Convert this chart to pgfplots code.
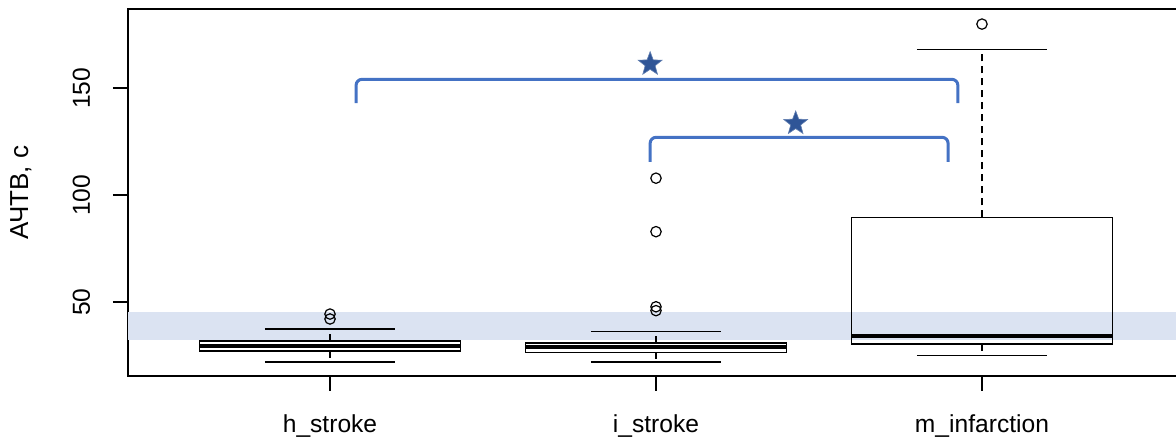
\documentclass[border=0pt]{standalone}
\usepackage{pgfplots}
\pgfplotsset{compat=1.18}
\usepgfplotslibrary{statistics}
\usepackage{fontspec}
\setmainfont{Liberation Sans}
\definecolor{band}{RGB}{219,227,242}
\definecolor{brk}{RGB}{68,114,196}
\definecolor{starc}{RGB}{47,85,151}
\pgfdeclareplotmark{fstar}{%
  \pgfpathmoveto{\pgfpointpolar{90}{\pgfplotmarksize}}%
  \pgfpathlineto{\pgfpointpolar{126}{0.42\pgfplotmarksize}}%
  \pgfpathlineto{\pgfpointpolar{162}{\pgfplotmarksize}}%
  \pgfpathlineto{\pgfpointpolar{198}{0.42\pgfplotmarksize}}%
  \pgfpathlineto{\pgfpointpolar{234}{\pgfplotmarksize}}%
  \pgfpathlineto{\pgfpointpolar{270}{0.42\pgfplotmarksize}}%
  \pgfpathlineto{\pgfpointpolar{306}{\pgfplotmarksize}}%
  \pgfpathlineto{\pgfpointpolar{342}{0.42\pgfplotmarksize}}%
  \pgfpathlineto{\pgfpointpolar{18}{\pgfplotmarksize}}%
  \pgfpathlineto{\pgfpointpolar{54}{0.42\pgfplotmarksize}}%
  \pgfpathclose
  \pgfusepathqfillstroke
}
\pgfplotsset{
  boxplot/draw/lower whisker/.code={%
    \draw[/pgfplots/boxplot/every whisker/.try, dash pattern=on 3.5pt off 2.5pt]
      (boxplot cs:\pgfplotsboxplotvalue{lower quartile}) --
      (boxplot cs:\pgfplotsboxplotvalue{lower whisker});
    \draw[/pgfplots/boxplot/every whisker/.try]
      (boxplot whisker cs:\pgfplotsboxplotvalue{lower whisker},0) --
      (boxplot whisker cs:\pgfplotsboxplotvalue{lower whisker},1);
  },
  boxplot/draw/upper whisker/.code={%
    \draw[/pgfplots/boxplot/every whisker/.try, dash pattern=on 3.5pt off 2.5pt]
      (boxplot cs:\pgfplotsboxplotvalue{upper quartile}) --
      (boxplot cs:\pgfplotsboxplotvalue{upper whisker});
    \draw[/pgfplots/boxplot/every whisker/.try]
      (boxplot whisker cs:\pgfplotsboxplotvalue{upper whisker},0) --
      (boxplot whisker cs:\pgfplotsboxplotvalue{upper whisker},1);
  },
  boxplot/every median/.style={line width=2pt},
}
\begin{document}
\begin{tikzpicture}
\begin{axis}[
  scale only axis, width=528.1pt, height=183.5pt,
  xmin=0.38, xmax=3.62, ymin=15.56, ymax=187.05,
  xtick={1,2,3}, xticklabels={h\_stroke, i\_stroke, m\_infarction},
  ytick={50,100,150},
  xtick pos=bottom, ytick pos=left,
  tick align=outside, major tick length=7.5pt,
  tick style={black, line width=0.8pt},
  axis line style={line width=0.8pt},
  font=\fontsize{12.3}{14}\selectfont,
  /pgf/number format/assume math mode=true,
  yticklabel style={rotate=90, anchor=base, inner sep=0pt},
  yticklabel shift=11.45pt,
  xticklabel style={anchor=base, inner sep=0pt},
  xticklabel shift=20.85pt,
  ylabel={АЧТВ, с},
  ylabel style={at={(axis description cs:-0.1013,0.5)}, anchor=center, font=\fontsize{13}{15}\selectfont},
  boxplot/draw direction=y,
]
\addplot[fill=band, draw=none] coordinates {(0.38,32.2) (3.62,32.2) (3.62,45.5) (0.38,45.5)} -- cycle;

\addplot[black, line width=0.8pt, mark=o, mark size=2.6pt, mark options={line width=0.6pt, solid},
  boxplot prepared={draw position=1, median=29.6, upper quartile=31.9, lower quartile=27.2,
  upper whisker=37.4, lower whisker=22.2, box extend=0.8, whisker extend=0.4}]
  coordinates {(0,44.5) (0,42.2)};
\addplot[black, line width=0.8pt, mark=o, mark size=2.6pt, mark options={line width=0.6pt, solid},
  boxplot prepared={draw position=2, median=29.0, upper quartile=31.1, lower quartile=26.6,
  upper whisker=36.3, lower whisker=22.2, box extend=0.8, whisker extend=0.4}]
  coordinates {(0,108) (0,83) (0,47.9) (0,46.1)};
\addplot[black, line width=0.8pt, mark=o, mark size=2.6pt, mark options={line width=0.6pt, solid},
  boxplot prepared={draw position=3, median=34.3, upper quartile=89.7, lower quartile=30.4,
  upper whisker=168.2, lower whisker=25.2, box extend=0.8, whisker extend=0.4}]
  coordinates {(0,180)};

\addplot[brk, line width=1.5pt, rounded corners=3pt, mark=none]
  coordinates {(1.08,143.1) (1.08,154.2) (2.926,154.2) (2.926,143.1)};
\addplot[brk, line width=1.5pt, rounded corners=3pt, mark=none]
  coordinates {(1.982,115.6) (1.982,127.1) (2.896,127.1) (2.896,115.6)};
\addplot[only marks, mark=fstar, mark size=6.25pt,
  mark options={fill=starc, draw=starc!75!white, line width=0.3pt}]
  coordinates {(1.982,161.3) (2.4285,133.6)};

\coordinate (SW) at (rel axis cs:0,0);
\coordinate (NE) at (rel axis cs:1,1);
\end{axis}
\pgfresetboundingbox
\path[use as bounding box] ([xshift=-63.95pt,yshift=-31.5pt]SW) rectangle ([xshift=-4.05pt,yshift=4.5pt]NE);
\end{tikzpicture}
\end{document}
